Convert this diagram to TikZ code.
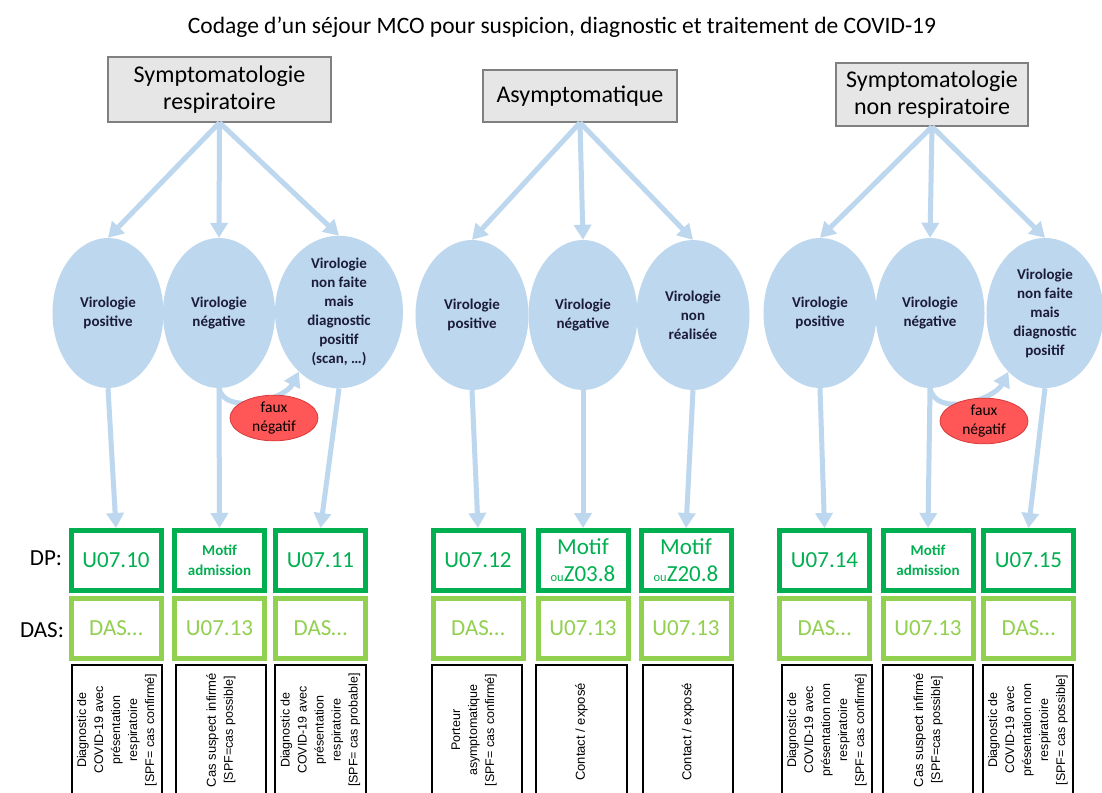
\documentclass[tikz,border=0pt]{standalone}
\usepackage{fontspec}
\setmainfont{Carlito}
\newfontfamily\arialf{Liberation Sans}
\usetikzlibrary{shapes.geometric,arrows.meta}
\definecolor{bulle}{HTML}{BDD7EE}
\definecolor{vertdp}{HTML}{00B050}
\definecolor{vertdas}{HTML}{92D050}
\definecolor{grisbox}{HTML}{E7E6E6}
\definecolor{grisbord}{HTML}{808080}
\definecolor{rouge}{HTML}{FF5757}
\definecolor{rougebord}{HTML}{D83A3A}
\definecolor{texte}{HTML}{1C1C38}

\begin{document}
\begin{tikzpicture}[x=1pt,y=-1pt,
    situation/.style={draw=grisbord,line width=1.2pt,fill=grisbox,align=center,inner sep=0pt,font=\fontsize{24}{27}\selectfont},
    viro/.style={ellipse,fill=bulle,inner sep=0pt,align=center,minimum height=150pt,text=texte,font=\fontsize{15}{19}\selectfont\bfseries},
    faux/.style={ellipse,fill=rouge,draw=rougebord,line width=0.8pt,minimum width=88pt,minimum height=41pt,inner sep=0pt,align=center,font=\fontsize{15.5}{19}\selectfont},
    fleche/.style={draw=bulle,line width=5pt,-{Triangle[length=15pt,width=17pt]}},
    dp/.style={draw=vertdp,line width=5pt,minimum width=90pt,minimum height=60pt,inner sep=0pt,align=center,text=vertdp,font=\fontsize{23}{27}\selectfont},
    das/.style={draw=vertdas,line width=5pt,minimum width=90pt,minimum height=60pt,inner sep=0pt,align=center,text=vertdas,font=\fontsize{23}{27}\selectfont},
    petit/.style={font=\fontsize{15}{20}\selectfont\bfseries},
    cadre/.style={draw=black,line width=1.2pt},
    libelle/.style={rotate=90,align=center,inner sep=0pt,font=\arialf\fontsize{12.5}{17}\selectfont}]
  \path[fill=white] (0,0) rectangle (1102,792);
  \useasboundingbox (0,0) rectangle (1102,792);

  \node[font=\fontsize{23.5}{26}\selectfont] (titre) at (562,27) {Codage d’un séjour MCO pour suspicion, diagnostic et traitement de COVID-19};

  % situations cliniques
  \node[situation,minimum width=223pt,minimum height=65pt] (sr) at (219.5,89.5) {Symptomatologie\\respiratoire};
  \node[situation,minimum width=194pt,minimum height=52pt] (asy) at (580,96) {Asymptomatique};
  \node[situation,minimum width=192pt,minimum height=63pt] (snr) at (932,94.5) {Symptomatologie\\non respiratoire};

  % virologie
  \node[viro,minimum width=111pt] (e1) at (108,313) {Virologie\\positive};
  \node[viro,minimum width=112pt] (e2) at (219,313) {Virologie\\négative};
  \node[viro,minimum width=128pt] (e3) at (339,312) {Virologie\\non faite\\mais\\diagnostic\\positif\\(scan, …)};
  \node[viro,minimum width=113pt] (e4) at (472,315) {Virologie\\positive};
  \node[viro,minimum width=109pt] (e5) at (583,315) {Virologie\\négative};
  \node[viro,minimum width=113pt] (e6) at (693,315) {Virologie\\non\\réalisée};
  \node[viro,minimum width=113pt] (e7) at (820,313) {Virologie\\positive};
  \node[viro,minimum width=109pt] (e8) at (930,313) {Virologie\\négative};
  \node[viro,minimum width=117pt] (e9) at (1045,313) {Virologie\\non faite\\mais\\diagnostic\\positif};

  % DP / DAS
  \node[font=\fontsize{23}{27}\selectfont] (lbldp) at (46,558) {DP:};
  \node[font=\fontsize{23}{27}\selectfont] (lbldas) at (42,630) {DAS:};
  \node[dp] (dp1) at (116,560.5) {U07.10};
  \node[dp,petit] (dp2) at (219.5,560.5) {Motif\\admission};
  \node[dp] (dp3) at (320.5,560.5) {U07.11};
  \node[dp] (dp4) at (478,560.5) {U07.12};
  \node[dp] (dp5) at (583,560.5) {Motif\\{\fontsize{12.5}{12}\selectfont ou}Z03.8};
  \node[dp] (dp6) at (686,560.5) {Motif\\{\fontsize{12.5}{12}\selectfont ou}Z20.8};
  \node[dp] (dp7) at (824.5,560.5) {U07.14};
  \node[dp,petit] (dp8) at (928,560.5) {Motif\\admission};
  \node[dp] (dp9) at (1028.5,560.5) {U07.15};
  \node[das] (das1) at (116,628) {DAS…};
  \node[das] (das2) at (219.5,628) {U07.13};
  \node[das] (das3) at (320.5,628) {DAS…};
  \node[das] (das4) at (478,628) {DAS…};
  \node[das] (das5) at (583,628) {U07.13};
  \node[das] (das6) at (686,628) {U07.13};
  \node[das] (das7) at (824.5,628) {DAS…};
  \node[das] (das8) at (928,628) {U07.13};
  \node[das] (das9) at (1028.5,628) {DAS…};

  % cadres du bas
  \draw[cadre] (72,665) rectangle (162,805);
  \draw[cadre] (176,665) rectangle (266,805);
  \draw[cadre] (275,665) rectangle (366,805);
  \draw[cadre] (432,665) rectangle (522,805);
  \draw[cadre] (536,665) rectangle (627,805);
  \draw[cadre] (643,665) rectangle (733,805);
  \draw[cadre] (782,665) rectangle (872,805);
  \draw[cadre] (883,665) rectangle (973,805);
  \draw[cadre] (983,665) rectangle (1073,805);
  \node[libelle] (t1) at (117,730) {Diagnostic de\\COVID-19 avec\\présentation\\respiratoire\\{[SPF= cas confirmé]}};
  \node[libelle] (t2) at (221,730) {{\fontsize{13}{17}\selectfont Cas suspect infirmé}\\{[SPF=cas possible]}};
  \node[libelle] (t3) at (320.5,730) {Diagnostic de\\COVID-19 avec\\présentation\\respiratoire\\{[SPF= cas probable]}};
  \node[libelle] (t4) at (474,730) {Porteur\\asymptomatique\\{[SPF= cas confirmé]}};
  \node[libelle,font=\arialf\fontsize{13}{17}\selectfont] (t5) at (581.5,732) {Contact / exposé};
  \node[libelle,font=\arialf\fontsize{13}{17}\selectfont] (t6) at (688,732) {Contact / exposé};
  \node[libelle] (t7) at (827,730) {Diagnostic de\\COVID-19 avec\\présentation non\\respiratoire\\{[SPF= cas confirmé]}};
  \node[libelle] (t8) at (928,730) {{\fontsize{13}{17}\selectfont Cas suspect infirmé}\\{[SPF=cas possible]}};
  \node[libelle] (t9) at (1028,730) {Diagnostic de\\COVID-19 avec\\présentation non\\respiratoire\\{[SPF= cas possible]}};

  % fleches
  \draw[fleche] (sr.south) -- (e1.north);
  \draw[fleche] (sr.south) -- (e2.north);
  \draw[fleche] (sr.south) -- (e3.north);
  \draw[fleche] (asy.south) -- (e4.north);
  \draw[fleche] (asy.south) -- (e5.north);
  \draw[fleche] (asy.south) -- (e6.north);
  \draw[fleche] (snr.south) -- (e7.north);
  \draw[fleche] (snr.south) -- (e8.north);
  \draw[fleche] (snr.south) -- (e9.north);
  \draw[fleche] (e1.south) -- (dp1.north);
  \draw[fleche] (e2.south) -- (dp2.north);
  \draw[fleche] (e3.south) -- (dp3.north);
  \draw[fleche] (e4.south) -- (dp4.north);
  \draw[fleche] (e5.south) -- (dp5.north);
  \draw[fleche] (e6.south) -- (dp6.north);
  \draw[fleche] (e7.south) -- (dp7.north);
  \draw[fleche] (e8.south) -- (dp8.north);
  \draw[fleche] (e9.south) -- (dp9.north);
  \draw[fleche] (e2.south) .. controls +(6,28) and +(-14,28) .. (e3.236);
  \draw[fleche] (e8.south) .. controls +(6,30) and +(-14,28) .. (e9.238);

  % faux negatifs
  \node[faux] (fn1) at (274,418) {faux\\négatif};
  \node[faux] (fn2) at (984,421) {faux\\négatif};
\end{tikzpicture}
\end{document}
